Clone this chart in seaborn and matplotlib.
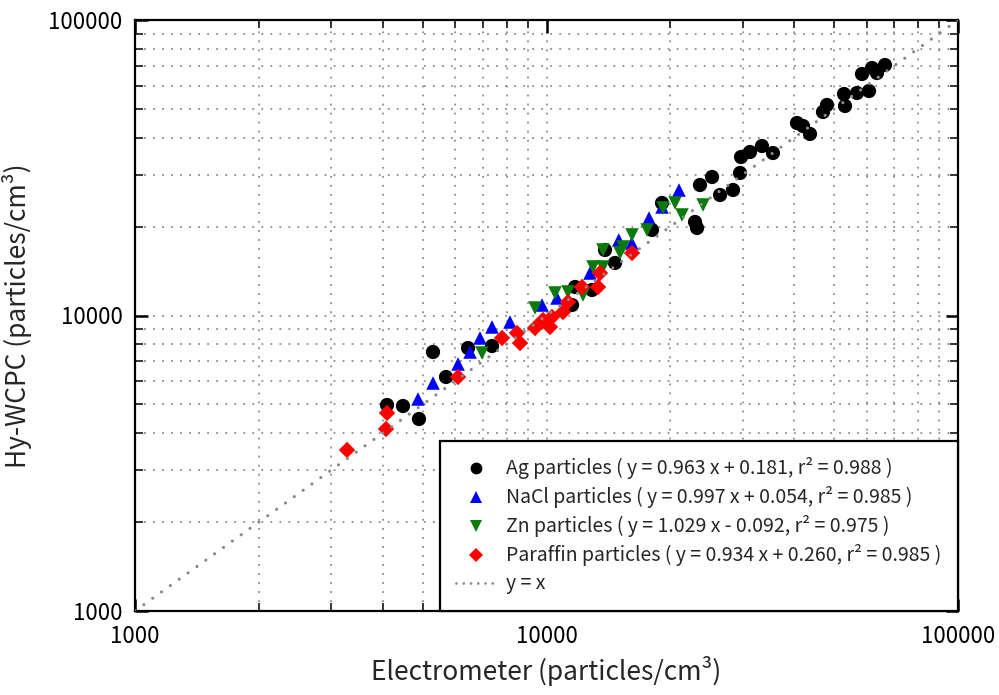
import numpy as np
import pandas as pd
import matplotlib
matplotlib.use("Agg")
import matplotlib.pyplot as plt
import seaborn as sns
from matplotlib.lines import Line2D
from matplotlib.ticker import LogLocator, NullFormatter, FuncFormatter

# Electrometer vs Hy-WCPC number concentrations (particles/cm^3)
ag_x = [4097, 4480, 4899, 5299, 5699, 6447, 7372, 11535, 11731, 12898,
        13873, 14671, 18046, 19086, 22961, 23216, 23605, 25250, 26408, 28399,
        29533, 29704, 31227, 33393, 35506, 40624, 42008, 43686, 46977, 48039,
        52840, 53144, 56831, 60772, 58437, 61800, 63550, 66451]
ag_y = [4979, 4940, 4464, 7524, 6193, 7762, 7884, 10852, 12487, 12199,
        16661, 15056, 19474, 24032, 20723, 19779, 27646, 29425, 25573, 26587,
        30358, 34385, 35750, 37460, 35474, 44813, 43782, 41145, 48841, 51574,
        56180, 51172, 56622, 57502, 65650, 68795, 66151, 70414]

nacl_x = [4872, 5299, 6096, 6520, 6892, 7372, 8152, 9752, 10605, 12756,
          14983, 16117, 17747, 19086, 20989]
nacl_y = [5218, 5910, 6853, 7524, 8393, 9144, 9506, 10852, 11463, 13925,
          18007, 17590, 21374, 23294, 26587]

zn_x = [6970, 9378, 10488, 11276, 12267, 12972, 13715, 13715, 15088, 16137,
        15344, 17551, 19193, 20526, 21347, 24010]
zn_y = [7466, 10602, 11917, 12011, 11734, 14594, 14594, 16661, 16275, 18731,
        17052, 19474, 23113, 24032, 21883, 23654]

paraffin_x = [3275, 4074, 4097, 6096, 7797, 8477, 8622, 9378, 9806, 10197,
              10313, 10967, 11276, 12198, 13341, 13490, 16137]
paraffin_y = [3506, 4130, 4678, 6193, 8393, 8727, 8069, 9073, 9656, 9144,
              9884, 10275, 11108, 12487, 12487, 13925, 16275]

labels = [
    "Ag particles ( y = 0.963 x + 0.181, r\u00b2 = 0.988 )",
    "NaCl particles ( y = 0.997 x + 0.054, r\u00b2 = 0.985 )",
    "Zn particles ( y = 1.029 x - 0.092, r\u00b2 = 0.975 )",
    "Paraffin particles ( y = 0.934 x + 0.260, r\u00b2 = 0.985 )",
]
identity_label = "y = x"
axis_limits = [1000, 100000]

colors = ["#000000", "#0000ff", "#0a7a0a", "#ff0000"]
markers = ["o", "^", "v", "D"]
point_sizes = [105, 95, 95, 70]
legend_msizes = [8.5, 8.5, 8.5, 7]

series = [(ag_x, ag_y), (nacl_x, nacl_y), (zn_x, zn_y), (paraffin_x, paraffin_y)]
df = pd.concat(
    [pd.DataFrame({"x": sx, "y": sy, "group": lab}) for (sx, sy), lab in zip(series, labels)],
    ignore_index=True,
)

sns.set_style("ticks")
plt.rcParams["font.family"] = ["Noto Sans CJK KR", "DejaVu Sans"]

fig = plt.figure(figsize=(9.99, 6.95), dpi=100)
ax = fig.add_axes([135 / 999, 1 - 611 / 695, (958 - 135) / 999, (611 - 20) / 695])

sns.scatterplot(
    data=df, x="x", y="y", hue="group", style="group", size="group",
    palette=dict(zip(labels, colors)),
    markers=dict(zip(labels, markers)),
    sizes=dict(zip(labels, point_sizes)),
    linewidth=0, legend=False, ax=ax, zorder=3,
)

ax.set_xscale("log")
ax.set_yscale("log")
ax.set_xlim(axis_limits)
ax.set_ylim(axis_limits)

# 1:1 reference line
ax.plot(axis_limits, axis_limits, color="#8a8a8a", lw=2.3,
        linestyle=(0, (0.01, 3.4)), dash_capstyle="round", zorder=5)

for axis in (ax.xaxis, ax.yaxis):
    axis.set_major_locator(LogLocator(base=10, numticks=10))
    axis.set_minor_locator(LogLocator(base=10, subs=np.arange(2, 10), numticks=20))
    axis.set_major_formatter(FuncFormatter(lambda v, p: f"{int(round(v))}"))
    axis.set_minor_formatter(NullFormatter())

ax.grid(which="both", color="#8c8c8c", linestyle=(0, (1, 4)), lw=1.3)
ax.set_axisbelow(True)

ax.tick_params(which="major", direction="in", length=9, width=1.8,
               top=True, right=True, labelsize=16, colors="black")
ax.tick_params(axis="x", which="major", pad=10)
ax.tick_params(axis="y", which="major", pad=9)
ax.tick_params(which="minor", direction="in", length=5.5, width=1.3,
               top=True, right=True)
for sp in ax.spines.values():
    sp.set_linewidth(1.6)
    sp.set_color("black")

ax.set_xlabel("Electrometer (particles/cm\u00b3)", fontsize=19, labelpad=6)
ax.set_ylabel("Hy-WCPC (particles/cm\u00b3)", fontsize=19, labelpad=12)

handles = [Line2D([], [], marker=m, color=c, linestyle="none", markersize=ms,
                  markeredgewidth=0)
           for m, c, ms in zip(markers, colors, legend_msizes)]
handles.append(Line2D([], [], color="#8a8a8a", lw=2.0,
                      linestyle=(0, (0.01, 2.6)), dash_capstyle="round"))
leg = ax.legend(handles, labels + [identity_label], loc="lower right",
                borderaxespad=0, frameon=True, fancybox=False,
                edgecolor="black", framealpha=1, fontsize=14,
                borderpad=0.85, handlelength=2.1, handletextpad=0.48,
                labelspacing=0.36)
leg.get_frame().set_linewidth(1.6)
leg.set_zorder(10)

fig.savefig("out.png", dpi=100)
